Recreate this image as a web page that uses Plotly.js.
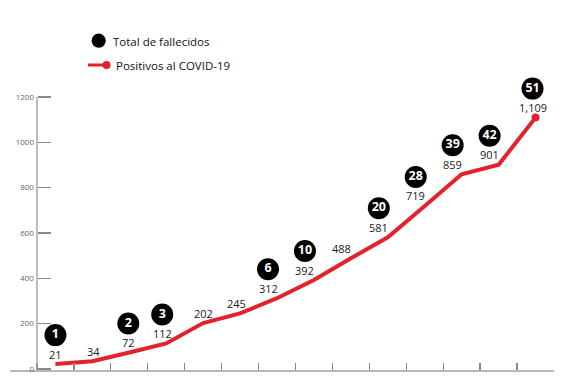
<!DOCTYPE html>
<html>
<head>
<meta charset="utf-8">
<script src="https://cdn.plot.ly/plotly-3.0.1.min.js"></script>
<style>html,body{margin:0;padding:0;background:#fff;}#chart{width:570px;height:382px;}</style>
</head>
<body>
<div id="chart"></div>
<script>
// ---- data ----
var days = [1,2,3,4,5,6,7,8,9,10,11,12,13,14];
var positivos = [21,34,72,112,202,245,312,392,488,581,719,859,901,1109];
var fallecidos = [1,null,2,3,null,null,6,10,null,20,28,39,42,51];
var serieNames = ["Total de fallecidos","Positivos al COVID-19"];
var yTickVals = [0,200,400,600,800,1000,1200];

// ---- geometry helpers ----
var W = 570, H = 382;
var mL = 10, mR = 16, mT = 20, mB = 12;
var plotW = W - mL - mR, plotH = H - mT - mB;
var xRange = [days[0] - 1.23, days[days.length-1] + 0.5];
var yAxisTop = 1200, yAxisTopPx = 97;
var pxPerY = (H - mB - yAxisTopPx) / (yAxisTop + 5);
var yRange = [-5, -5 + plotH / pxPerY];
var pxPerX = plotW / (xRange[1] - xRange[0]);
var red = '#e3222b';
var font = 'Open Sans, Noto Sans, sans-serif';
var yAxisPos = ((days[0] - 0.5) - xRange[0]) / (xRange[1] - xRange[0]);

function nudge(i) {
  if (i >= 6 && i <= 12) return -9;
  if (i === 13) return -3;
  if (i === 3 || i === 5) return -4;
  if (i === 1) return 1;
  if (i === 2) return -1;
  return 0;
}
function fmt(v) { return v.toString().replace(/\B(?=(\d{3})+(?!\d))/g, ','); }

// value labels
var annotations = positivos.map(function(v, i) {
  return {
    x: days[i], y: v, xref: 'x', yref: 'y', text: fmt(v), showarrow: false,
    xshift: nudge(i), yshift: 10, font: {family: font, size: 11, color: '#1a1a1a'}
  };
});

// death circles (pixel offsets converted to data units)
var dX = [], dY = [], dT = [];
fallecidos.forEach(function(f, i) {
  if (f === null) return;
  dX.push(days[i] + nudge(i) / pxPerX);
  dY.push(positivos[i] + 29 / pxPerY);
  dT.push(String(f));
});

var xTickVals = days.map(function(d){ return d - 0.5; }).concat([days[days.length-1] + 0.5]);

var traces = [
  {
    x: days, y: positivos, name: serieNames[1], type: 'scatter', mode: 'lines',
    line: {color: red, width: 4}, showlegend: false, hoverinfo: 'skip'
  },
  {
    x: [days[days.length-1]], y: [positivos[positivos.length-1]], type: 'scatter', mode: 'markers',
    marker: {color: red, size: 8}, showlegend: false, hoverinfo: 'skip', cliponaxis: false
  },
  {
    x: dX, y: dY, text: dT, name: serieNames[0], type: 'scatter', mode: 'markers+text',
    marker: {color: '#000', size: 22}, textposition: 'middle center',
    textfont: {family: font, size: 12.5, color: '#fff', weight: 'bold'},
    showlegend: false, cliponaxis: false, hoverinfo: 'skip'
  }
];

// custom legend (paper coords from pixels)
function px2x(p){ return (p - mL) / plotW; }
function px2y(p){ return (H - mB - p) / plotH; }
var shapes = [
  // y axis line, only up to 1200
  {type: 'line', xref: 'paper', yref: 'y', x0: yAxisPos, x1: yAxisPos, y0: yRange[0], y1: yAxisTop,
   line: {color: '#9a9a9a', width: 1.3}},
  {type: 'circle', xref: 'paper', yref: 'paper', x0: px2x(91.6), x1: px2x(105.8), y0: px2y(47.8), y1: px2y(33.6),
   fillcolor: '#000', line: {width: 0}},
  {type: 'line', xref: 'paper', yref: 'paper', x0: px2x(88), x1: px2x(106), y0: px2y(65), y1: px2y(65),
   line: {color: red, width: 3}},
  {type: 'circle', xref: 'paper', yref: 'paper', x0: px2x(102.5), x1: px2x(110.5), y0: px2y(69), y1: px2y(61),
   fillcolor: red, line: {width: 0}}
];
annotations.push({xref: 'paper', yref: 'paper', x: px2x(111), y: px2y(41), xanchor: 'left', yanchor: 'middle',
  text: serieNames[0], showarrow: false, font: {family: font, size: 11.5, color: '#111'}});
annotations.push({xref: 'paper', yref: 'paper', x: px2x(113.5), y: px2y(65), xanchor: 'left', yanchor: 'middle',
  text: serieNames[1], showarrow: false, font: {family: font, size: 11.5, color: '#111'}});

var layout = {
  width: W, height: H,
  margin: {l: mL, r: mR, t: mT, b: mB, pad: 0},
  paper_bgcolor: '#fff', plot_bgcolor: '#fff',
  showlegend: false,
  xaxis: {
    range: xRange, showgrid: false, zeroline: false, showticklabels: false,
    showline: true, linecolor: '#b8b8b8', linewidth: 2,
    tickmode: 'array', tickvals: xTickVals, ticks: 'inside', ticklen: 7, tickwidth: 1.3, tickcolor: '#8a8a8a'
  },
  yaxis: {
    range: yRange, showgrid: false, zeroline: false,
    anchor: 'free', position: yAxisPos,
    showline: false,
    tickmode: 'array', tickvals: yTickVals, ticks: 'inside', ticklen: 13, tickwidth: 1.3, tickcolor: '#8a8a8a',
    tickfont: {family: font, size: 8, color: '#666'}, ticklabelstandoff: 3
  },
  annotations: annotations,
  shapes: shapes,
  font: {family: font}
};

Plotly.newPlot('chart', traces, layout, {displayModeBar: false, staticPlot: true});
</script>
</body>
</html>
